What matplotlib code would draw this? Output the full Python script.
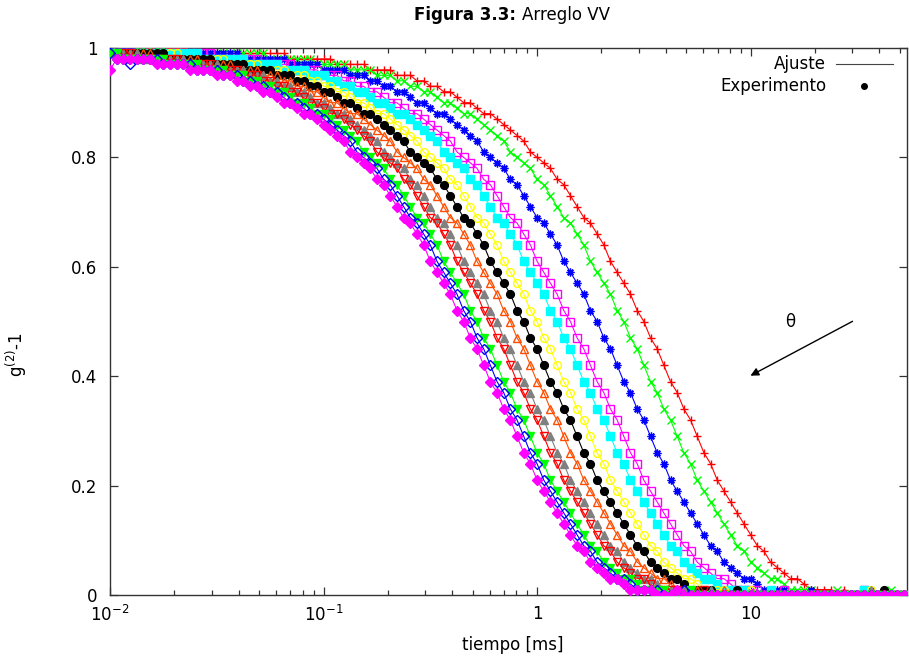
import matplotlib
matplotlib.use("Agg")
import matplotlib.pyplot as plt
from matplotlib.ticker import LogLocator, NullFormatter, FixedLocator, FixedFormatter

plt.rcParams['font.family'] = ['DejaVu Sans']
plt.rcParams['mathtext.default'] = 'regular'

# Correlator channel times [ms]
tiempo_ms = [
    0.01000, 0.01075, 0.01155, 0.01241, 0.01334, 0.01433, 0.01540, 0.01655, 0.01778, 0.01911,
    0.02054, 0.02207, 0.02371, 0.02548, 0.02738, 0.02943, 0.03162, 0.03398, 0.03652, 0.03924,
    0.04217, 0.04532, 0.04870, 0.05233, 0.05623, 0.06043, 0.06494, 0.06978, 0.07499, 0.08058,
    0.08660, 0.09306, 0.1000, 0.1075, 0.1155, 0.1241, 0.1334, 0.1433, 0.1540, 0.1655,
    0.1778, 0.1911, 0.2054, 0.2207, 0.2371, 0.2548, 0.2738, 0.2943, 0.3162, 0.3398,
    0.3652, 0.3924, 0.4217, 0.4532, 0.4870, 0.5233, 0.5623, 0.6043, 0.6494, 0.6978,
    0.7499, 0.8058, 0.8660, 0.9306, 1.000, 1.075, 1.155, 1.241, 1.334, 1.433,
    1.540, 1.655, 1.778, 1.911, 2.054, 2.207, 2.371, 2.548, 2.738, 2.943,
    3.162, 3.398, 3.652, 3.924, 4.217, 4.532, 4.870, 5.233, 5.623, 6.043,
    6.494, 6.978, 7.499, 8.058, 8.660, 9.306, 10.00, 10.75, 11.55, 12.41,
    13.34, 14.33, 15.40, 16.55, 17.78, 19.11, 20.54, 22.07, 23.71, 25.48,
    27.38, 29.43, 31.62, 33.98, 36.52, 39.24, 42.17, 45.32, 48.70, 52.33]

# Measured g2-1, one array per scattering angle (smallest angle / slowest decay first)
serie_01 = [
    1.00, 1.00, 0.99, 1.00, 1.00, 1.00, 1.00, 0.99, 1.00, 1.00, 1.00, 1.00,
    0.99, 0.99, 0.99, 0.99, 0.99, 0.99, 0.99, 0.99, 0.99, 0.99, 0.99, 0.99, 0.99, 0.99, 0.99,
    0.98, 0.98, 0.98, 0.98, 0.98, 0.98, 0.98, 0.97, 0.97, 0.97, 0.97, 0.97, 0.96, 0.96, 0.96, 0.96, 0.95, 0.95, 0.95, 0.94,
    0.94, 0.93, 0.93, 0.92, 0.92, 0.91, 0.90, 0.90, 0.89, 0.88, 0.88, 0.87, 0.86, 0.85, 0.84, 0.83, 0.81, 0.80, 0.79, 0.78,
    0.76, 0.75, 0.73, 0.71, 0.69, 0.68, 0.66, 0.64, 0.61, 0.59, 0.57, 0.55, 0.52, 0.50, 0.47, 0.45, 0.42, 0.39, 0.37, 0.34,
    0.32, 0.29, 0.26, 0.24, 0.21, 0.19, 0.17, 0.15, 0.13, 0.11, 0.09, 0.08, 0.06, 0.05, 0.04, 0.03, 0.03, 0.02, 0.01, 0.01, 0.01, 0.01,
    0.00, 0.01, 0.00, 0.00, 0.00, 0.01, 0.00, 0.00, 0.00, 0.00, 0.00]
serie_02 = [
    1.00, 1.00, 1.00, 0.99, 1.00, 1.00, 1.00, 1.00, 1.00,
    0.99, 0.99, 0.99, 0.99, 0.99, 0.99, 0.99, 0.99, 0.99, 0.99, 0.99, 0.99, 0.99, 0.99, 0.99,
    0.98, 0.98, 0.98, 0.98, 0.98, 0.98, 0.98, 0.97, 0.97, 0.97, 0.97, 0.97, 0.96, 0.96, 0.96, 0.96, 0.95, 0.95, 0.95, 0.94,
    0.94, 0.93, 0.93, 0.92, 0.92, 0.91, 0.90, 0.90, 0.89, 0.88, 0.88, 0.87, 0.86, 0.85, 0.84, 0.83, 0.81, 0.80, 0.79, 0.78,
    0.76, 0.75, 0.73, 0.71, 0.69, 0.68, 0.66, 0.64, 0.61, 0.59, 0.57, 0.55, 0.52, 0.50, 0.47, 0.45, 0.42, 0.39, 0.37, 0.34,
    0.32, 0.29, 0.26, 0.24, 0.21, 0.19, 0.17, 0.15, 0.13, 0.11, 0.09, 0.08, 0.06, 0.05, 0.04, 0.03, 0.03, 0.02, 0.01, 0.01, 0.01, 0.01,
    0.00, 0.00, 0.00, 0.01, 0.00, 0.00, 0.00, 0.00, 0.00, 0.00,
    0.00, 0.01, 0.00, 0.00]
serie_03 = [
    1.00, 1.00, 1.00, 1.00, 0.99,
    0.99, 0.99, 0.99, 0.99, 0.99, 0.99, 0.99, 0.99, 0.99, 0.99, 0.99, 0.99, 0.99, 0.99, 0.99,
    0.98, 0.98, 0.98, 0.98, 0.98, 0.98, 0.98, 0.97, 0.97, 0.97, 0.97, 0.97, 0.96, 0.96, 0.96, 0.96, 0.95, 0.95, 0.95, 0.94,
    0.94, 0.93, 0.93, 0.92, 0.92, 0.91, 0.90, 0.90, 0.89, 0.88, 0.88, 0.87, 0.86, 0.85, 0.84, 0.83, 0.81, 0.80, 0.79, 0.78,
    0.76, 0.75, 0.73, 0.71, 0.69, 0.68, 0.66, 0.64, 0.61, 0.59, 0.57, 0.55, 0.52, 0.50, 0.47, 0.45, 0.42, 0.39, 0.37, 0.34,
    0.32, 0.29, 0.26, 0.24, 0.21, 0.19, 0.17, 0.15, 0.13, 0.11, 0.09, 0.08, 0.06, 0.05, 0.04, 0.03, 0.03, 0.02, 0.01, 0.01, 0.01, 0.01,
    0.00, 0.00, 0.00, 0.01, 0.00, 0.00, 0.00, 0.00, 0.00, 0.00,
    0.00, 0.00, 0.01, 0.00, 0.00, 0.00, 0.00, 0.00]
serie_04 = [
    1.00,
    0.99, 0.99, 0.99, 0.99, 0.99, 0.99, 0.99, 0.99, 0.99, 0.99, 0.99, 0.99, 0.99, 0.99, 0.99,
    0.98, 0.98, 0.98, 0.98, 0.98, 0.98, 0.98, 0.97, 0.97, 0.97, 0.97, 0.97, 0.96, 0.96, 0.96, 0.96, 0.95, 0.95, 0.95, 0.94,
    0.94, 0.93, 0.93, 0.92, 0.92, 0.91, 0.90, 0.90, 0.89, 0.88, 0.88, 0.87, 0.86, 0.85, 0.84, 0.83, 0.81, 0.80, 0.79, 0.78,
    0.76, 0.75, 0.73, 0.71, 0.69, 0.68, 0.66, 0.64, 0.61, 0.59, 0.57, 0.55, 0.52, 0.50, 0.47, 0.45, 0.42, 0.39, 0.37, 0.34,
    0.32, 0.29, 0.26, 0.24, 0.21, 0.19, 0.17, 0.15, 0.13, 0.11, 0.09, 0.08, 0.06, 0.05, 0.04, 0.03, 0.03, 0.02, 0.01, 0.01, 0.01, 0.01,
    0.00, 0.00, 0.00, 0.01, 0.00, 0.00, 0.00, 0.00, 0.00, 0.00,
    0.00, 0.00, 0.00, 0.00, 0.00, 0.01, 0.00, 0.00, 0.00, 0.00,
    0.00, 0.00]
serie_05 = [
    0.99, 0.99, 0.99, 0.99, 0.99, 0.99, 0.99, 0.99, 0.99, 0.99, 0.99, 0.99, 0.99, 0.99,
    0.98, 0.98, 0.98, 0.98, 0.98, 0.98, 0.98, 0.97, 0.97, 0.97, 0.97, 0.97, 0.96, 0.96, 0.96, 0.96, 0.95, 0.95, 0.95, 0.94,
    0.94, 0.93, 0.93, 0.92, 0.92, 0.91, 0.90, 0.90, 0.89, 0.88, 0.88, 0.87, 0.86, 0.85, 0.84, 0.83, 0.81, 0.80, 0.79, 0.78,
    0.76, 0.75, 0.73, 0.71, 0.69, 0.68, 0.66, 0.64, 0.61, 0.59, 0.57, 0.55, 0.52, 0.50, 0.47, 0.45, 0.42, 0.39, 0.37, 0.34,
    0.32, 0.29, 0.26, 0.24, 0.21, 0.19, 0.17, 0.15, 0.13, 0.11, 0.09, 0.08, 0.06, 0.05, 0.04, 0.03, 0.03, 0.02, 0.01, 0.01, 0.01, 0.01,
    0.00, 0.00, 0.00, 0.01, 0.00, 0.00, 0.00, 0.00, 0.00, 0.00,
    0.00, 0.00, 0.00, 0.00, 0.00, 0.00, 0.00, 0.01, 0.00, 0.00,
    0.00, 0.00, 0.00, 0.00]
serie_06 = [
    0.99, 0.99, 0.99, 0.99, 0.99, 0.99, 0.99, 0.99, 0.99, 0.99, 0.99,
    0.98, 0.98, 0.98, 0.98, 0.98, 0.98, 0.98, 0.97, 0.97, 0.97, 0.97, 0.97, 0.96, 0.96, 0.96, 0.96, 0.95, 0.95, 0.95, 0.94,
    0.94, 0.93, 0.93, 0.92, 0.92, 0.91, 0.90, 0.90, 0.89, 0.88, 0.88, 0.87, 0.86, 0.85, 0.84, 0.83, 0.81, 0.80, 0.79, 0.78,
    0.76, 0.75, 0.73, 0.71, 0.69, 0.68, 0.66, 0.64, 0.61, 0.59, 0.57, 0.55, 0.52, 0.50, 0.47, 0.45, 0.42, 0.39, 0.37, 0.34,
    0.32, 0.29, 0.26, 0.24, 0.21, 0.19, 0.17, 0.15, 0.13, 0.11, 0.09, 0.08, 0.06, 0.05, 0.04, 0.03, 0.03, 0.02, 0.01, 0.01, 0.01, 0.01,
    0.00, 0.00, 0.00, 0.01, 0.00, 0.00, 0.00, 0.00, 0.00, 0.00,
    0.00, 0.00, 0.00, 0.00, 0.00, 0.00, 0.00, 0.00, 0.00, 0.00,
    0.00, 0.01, 0.00, 0.00, 0.00, 0.00, 0.00]
serie_07 = [
    0.99, 0.99, 0.99, 0.99, 0.99, 0.99, 0.99, 0.99, 0.99,
    0.98, 0.98, 0.98, 0.98, 0.98, 0.98, 0.98, 0.97, 0.97, 0.97, 0.97, 0.97, 0.96, 0.96, 0.96, 0.96, 0.95, 0.95, 0.95, 0.94,
    0.94, 0.93, 0.93, 0.92, 0.92, 0.91, 0.90, 0.90, 0.89, 0.88, 0.88, 0.87, 0.86, 0.85, 0.84, 0.83, 0.81, 0.80, 0.79, 0.78,
    0.76, 0.75, 0.73, 0.71, 0.69, 0.68, 0.66, 0.64, 0.61, 0.59, 0.57, 0.55, 0.52, 0.50, 0.47, 0.45, 0.42, 0.39, 0.37, 0.34,
    0.32, 0.29, 0.26, 0.24, 0.21, 0.19, 0.17, 0.15, 0.13, 0.11, 0.09, 0.08, 0.06, 0.05, 0.04, 0.03, 0.03, 0.02, 0.01, 0.01, 0.01, 0.01,
    0.00, 0.00, 0.00, 0.01, 0.00, 0.00, 0.00, 0.00, 0.00, 0.00,
    0.00, 0.00, 0.00, 0.00, 0.00, 0.00, 0.00, 0.00, 0.00, 0.00,
    0.00, 0.00, 0.00, 0.00, 0.00, 0.01, 0.00, 0.00, 0.00]
serie_08 = [
    0.99, 0.99, 0.99, 0.99, 0.99, 0.99, 0.99,
    0.98, 0.98, 0.98, 0.98, 0.98, 0.98, 0.98, 0.97, 0.97, 0.97, 0.97, 0.97, 0.96, 0.96, 0.96, 0.96, 0.95, 0.95, 0.95, 0.94,
    0.94, 0.93, 0.93, 0.92, 0.92, 0.91, 0.90, 0.90, 0.89, 0.88, 0.88, 0.87, 0.86, 0.85, 0.84, 0.83, 0.81, 0.80, 0.79, 0.78,
    0.76, 0.75, 0.73, 0.71, 0.69, 0.68, 0.66, 0.64, 0.61, 0.59, 0.57, 0.55, 0.52, 0.50, 0.47, 0.45, 0.42, 0.39, 0.37, 0.34,
    0.32, 0.29, 0.26, 0.24, 0.21, 0.19, 0.17, 0.15, 0.13, 0.11, 0.09, 0.08, 0.06, 0.05, 0.04, 0.03, 0.03, 0.02, 0.01, 0.01, 0.01, 0.01,
    0.00, 0.00, 0.00, 0.01, 0.00, 0.00, 0.00, 0.00, 0.00, 0.00,
    0.00, 0.00, 0.00, 0.00, 0.00, 0.00, 0.00, 0.00, 0.00, 0.00,
    0.00, 0.00, 0.00, 0.00, 0.00, 0.00, 0.00, 0.00, 0.00, 0.00,
    0.00]
serie_09 = [
    0.99, 0.99, 0.99, 0.99, 0.99,
    0.98, 0.98, 0.98, 0.98, 0.98, 0.98, 0.98, 0.97, 0.97, 0.97, 0.97, 0.97, 0.96, 0.96, 0.96, 0.96, 0.95, 0.95, 0.95, 0.94,
    0.94, 0.93, 0.93, 0.92, 0.92, 0.91, 0.90, 0.90, 0.89, 0.88, 0.88, 0.87, 0.86, 0.85, 0.84, 0.83, 0.81, 0.80, 0.79, 0.78,
    0.76, 0.75, 0.73, 0.71, 0.69, 0.68, 0.66, 0.64, 0.61, 0.59, 0.57, 0.55, 0.52, 0.50, 0.47, 0.45, 0.42, 0.39, 0.37, 0.34,
    0.32, 0.29, 0.26, 0.24, 0.21, 0.19, 0.17, 0.15, 0.13, 0.11, 0.09, 0.08, 0.06, 0.05, 0.04, 0.03, 0.03, 0.02, 0.01, 0.01, 0.01, 0.01,
    0.00, 0.00, 0.00, 0.01, 0.00, 0.00, 0.00, 0.00, 0.00, 0.00,
    0.00, 0.00, 0.00, 0.00, 0.00, 0.00, 0.00, 0.00, 0.00, 0.00,
    0.00, 0.00, 0.00, 0.00, 0.00, 0.00, 0.00, 0.01, 0.00, 0.00,
    0.00, 0.00, 0.00]
serie_10 = [
    0.99, 0.99, 0.99, 0.99,
    0.98, 0.98, 0.98, 0.98, 0.98, 0.98, 0.98, 0.97, 0.97, 0.97, 0.97, 0.97, 0.96, 0.96, 0.96, 0.96, 0.95, 0.95, 0.95, 0.94,
    0.94, 0.93, 0.93, 0.92, 0.92, 0.91, 0.90, 0.90, 0.89, 0.88, 0.88, 0.87, 0.86, 0.85, 0.84, 0.83, 0.81, 0.80, 0.79, 0.78,
    0.76, 0.75, 0.73, 0.71, 0.69, 0.68, 0.66, 0.64, 0.61, 0.59, 0.57, 0.55, 0.52, 0.50, 0.47, 0.45, 0.42, 0.39, 0.37, 0.34,
    0.32, 0.29, 0.26, 0.24, 0.21, 0.19, 0.17, 0.15, 0.13, 0.11, 0.09, 0.08, 0.06, 0.05, 0.04, 0.03, 0.03, 0.02, 0.01, 0.01, 0.01, 0.01,
    0.00, 0.00, 0.00, 0.01, 0.00, 0.00, 0.00, 0.00, 0.00, 0.00,
    0.00, 0.00, 0.00, 0.00, 0.00, 0.00, 0.00, 0.00, 0.00, 0.00,
    0.00, 0.00, 0.00, 0.00, 0.00, 0.00, 0.00, 0.00, 0.00, 0.00,
    0.00, 0.00, 0.00, 0.00]
serie_11 = [
    0.99, 0.99,
    0.98, 0.98, 0.98, 0.98, 0.98, 0.98, 0.98, 0.97, 0.97, 0.97, 0.97, 0.97, 0.96, 0.96, 0.96, 0.96, 0.95, 0.95, 0.95, 0.94,
    0.94, 0.93, 0.93, 0.92, 0.92, 0.91, 0.90, 0.90, 0.89, 0.88, 0.88, 0.87, 0.86, 0.85, 0.84, 0.83, 0.81, 0.80, 0.79, 0.78,
    0.76, 0.75, 0.73, 0.71, 0.69, 0.68, 0.66, 0.64, 0.61, 0.59, 0.57, 0.55, 0.52, 0.50, 0.47, 0.45, 0.42, 0.39, 0.37, 0.34,
    0.32, 0.29, 0.26, 0.24, 0.21, 0.19, 0.17, 0.15, 0.13, 0.11, 0.09, 0.08, 0.06, 0.05, 0.04, 0.03, 0.03, 0.02, 0.01, 0.01, 0.01, 0.01,
    0.00, 0.00, 0.00, 0.01, 0.00, 0.00, 0.00, 0.00, 0.00, 0.00,
    0.00, 0.00, 0.00, 0.00, 0.00, 0.00, 0.00, 0.00, 0.00, 0.00,
    0.00, 0.00, 0.00, 0.00, 0.00, 0.00, 0.00, 0.00, 0.00, 0.00,
    0.00, 0.00, 0.00, 0.00, 0.00, 0.00]
serie_12 = [
    0.99,
    0.98, 0.98, 0.97, 0.98, 0.98, 0.98, 0.98, 0.97, 0.97, 0.97, 0.97, 0.97, 0.96, 0.96, 0.96, 0.96, 0.95, 0.95, 0.95, 0.94,
    0.94, 0.93, 0.93, 0.92, 0.92, 0.91, 0.90, 0.90, 0.89, 0.88, 0.88, 0.87, 0.86, 0.85, 0.84, 0.83, 0.81, 0.80, 0.79, 0.78,
    0.76, 0.75, 0.73, 0.71, 0.69, 0.68, 0.66, 0.64, 0.61, 0.59, 0.57, 0.55, 0.52, 0.50, 0.47, 0.45, 0.42, 0.39, 0.37, 0.34,
    0.32, 0.29, 0.26, 0.24, 0.21, 0.19, 0.17, 0.15, 0.13, 0.11, 0.09, 0.08, 0.06, 0.05, 0.04, 0.03, 0.03, 0.02, 0.01, 0.01, 0.01, 0.01,
    0.00, 0.00, 0.00, 0.01, 0.00, 0.00, 0.00, 0.00, 0.00, 0.00,
    0.00, 0.00, 0.00, 0.00, 0.00, 0.00, 0.00, 0.00, 0.00, 0.00,
    0.00, 0.00, 0.00, 0.00, 0.00, 0.00, 0.00, 0.00, 0.00, 0.00,
    0.00, 0.00, 0.00, 0.00, 0.00, 0.00, 0.00]
serie_13 = [
    0.96, 0.98, 0.98, 0.98, 0.98, 0.98, 0.98, 0.97, 0.97, 0.97, 0.97, 0.97, 0.96, 0.96, 0.96, 0.96, 0.95, 0.95, 0.95, 0.94,
    0.94, 0.93, 0.93, 0.92, 0.92, 0.91, 0.90, 0.90, 0.89, 0.88, 0.88, 0.87, 0.86, 0.85, 0.84, 0.83, 0.81, 0.80, 0.79, 0.78,
    0.76, 0.75, 0.73, 0.71, 0.69, 0.68, 0.66, 0.64, 0.61, 0.59, 0.57, 0.55, 0.52, 0.50, 0.47, 0.45, 0.42, 0.39, 0.37, 0.34,
    0.32, 0.29, 0.26, 0.24, 0.21, 0.19, 0.17, 0.15, 0.13, 0.11, 0.09, 0.08, 0.06, 0.05, 0.04, 0.03, 0.03, 0.02, 0.01, 0.01, 0.01, 0.01,
    0.00, 0.00, 0.00, 0.01, 0.00, 0.00, 0.00, 0.00, 0.00, 0.00,
    0.00, 0.00, 0.00, 0.00, 0.00, 0.00, 0.00, 0.00, 0.00, 0.00,
    0.00, 0.00, 0.00, 0.00, 0.00, 0.00, 0.00, 0.00, 0.00, 0.00,
    0.00, 0.00, 0.00, 0.00, 0.00, 0.00, 0.00, 0.00]

series = [serie_01, serie_02, serie_03, serie_04, serie_05, serie_06, serie_07,
          serie_08, serie_09, serie_10, serie_11, serie_12, serie_13]

# gnuplot-like line types: colour, marker, filled
colores = ['#ff0000', '#00ff00', '#0000ff', '#ff00ff', '#00ffff', '#ffff00', '#000000',
           '#ff4d00', '#808080', '#ff0000', '#00ff00', '#0000ff', '#ff00ff']
marcas = ['+', 'x', (8, 2, 0), 's', 's', 'o', 'o', '^', '^', 'v', 'v', 'D', 'D']
relleno = [False, False, False, False, True, False, True, False, True, False, True, False, True]

W, H = 909, 660
fig = plt.figure(figsize=(W / 100, H / 100), dpi=100)
L, R, T, B = 110, 907, 48, 595
ax = fig.add_axes([L / W, 1 - B / H, (R - L) / W, (B - T) / H])

for y, c, m, f in zip(series, colores, marcas, relleno):
    ax.plot(tiempo_ms, y, color=c, lw=0.8, zorder=2)
    ax.plot(tiempo_ms, y, ls='none', marker=m, ms=5.6, mew=1.0,
            mec=c, mfc=(c if f else 'none'), zorder=3)

ax.set_xscale('log')
ax.set_xlim(0.01, 54)
ax.set_ylim(0, 1)

ax.xaxis.set_major_locator(FixedLocator([0.01, 0.1, 1, 10]))
ax.xaxis.set_major_formatter(FixedFormatter([r'10$^{-2}$', r'10$^{-1}$', '1', '10']))
ax.xaxis.set_minor_locator(LogLocator(base=10, subs=range(2, 10)))
ax.xaxis.set_minor_formatter(NullFormatter())
ax.yaxis.set_major_locator(FixedLocator([0, 0.2, 0.4, 0.6, 0.8, 1.0]))
ax.yaxis.set_major_formatter(FixedFormatter(['0', '0.2', '0.4', '0.6', '0.8', '1']))

ax.tick_params(which='both', direction='in', top=True, right=True, labelsize=12, color='#333333')
ax.tick_params(which='major', length=6, width=0.9)
ax.tick_params(which='minor', length=3.5, width=0.9)
ax.tick_params(axis='x', pad=7)
ax.tick_params(axis='y', pad=9)
for s in ax.spines.values():
    s.set_linewidth(1.0)
    s.set_color('#333333')

# axis titles
fig.text(513 / W, 1 - 645 / H, 'tiempo [ms]', ha='center', va='center', fontsize=12)
fig.text(16 / W, 1 - 355 / H, r'g$^{(2)}$-1', ha='center', va='center', fontsize=12, rotation=90)

# key
def ax_frac(px, py):
    return (px - L) / (R - L), (B - py) / (B - T)

kx, ky1 = ax_frac(826, 64)
_, ky2 = ax_frac(826, 86)
ax.text(kx, ky1, 'Ajuste', transform=ax.transAxes, ha='right', va='center', fontsize=12)
ax.text(kx, ky2, 'Experimento', transform=ax.transAxes, ha='right', va='center', fontsize=12)
lx0, _ = ax_frac(836, 0)
lx1, _ = ax_frac(893, 0)
ax.plot([lx0, lx1], [ky1, ky1], transform=ax.transAxes, color='#444444', lw=0.8)
dx, _ = ax_frac(864, 0)
ax.plot([dx], [ky2], transform=ax.transAxes, marker='o', ms=4, color='black', ls='none')

# angle arrow
a0 = ax_frac(855, 320)
a1 = ax_frac(748, 377)
ax.annotate('', xy=a1, xytext=a0, xycoords='axes fraction', textcoords='axes fraction',
            arrowprops=dict(arrowstyle='-|>', color='black', lw=1.0, mutation_scale=12))
tx, ty = ax_frac(790, 322)
ax.text(tx, ty, 'θ', transform=ax.transAxes, ha='center', va='center', fontsize=12)

# title: bold figure number followed by regular text
fig.canvas.draw()
rend = fig.canvas.get_renderer()
ty_fig = 1 - 15 / H
t1 = fig.text(0, ty_fig, 'Figura 3.3:', fontweight='bold', fontsize=12, va='center')
t2 = fig.text(0, ty_fig, 'Arreglo VV', fontsize=12, va='center')
w1 = t1.get_window_extent(rend).width
w2 = t2.get_window_extent(rend).width
gap = 6
x0 = 512 - (w1 + gap + w2) / 2
t1.set_x(x0 / W)
t2.set_x((x0 + w1 + gap) / W)

fig.savefig('out.png', dpi=100)
